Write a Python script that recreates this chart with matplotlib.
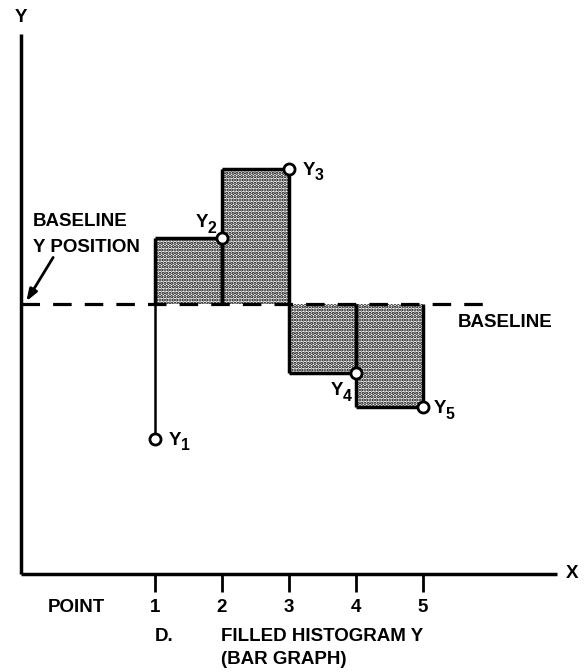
import matplotlib.pyplot as plt

plt.rcParams['font.family'] = ['Liberation Sans', 'DejaVu Sans']
plt.rcParams['font.weight'] = 'bold'
plt.rcParams['hatch.linewidth'] = 1.6

# data points of the histogram
points = [1, 2, 3, 4, 5]
y_vals = [-2.0, 0.98, 2.0, -1.02, -1.53]
point_labels = ['1', '2', '3', '4', '5']
y_subs = ['1', '2', '3', '4', '5']
baseline = 0.0

# offset (points) of the left edge of each "Y" name from its point
name_offsets = [(10, -1), (-19, 11), (10, -1), (-18, -13), (8, -1)]

x_scale, y_scale = 67.0, 67.5  # pixels per unit
x0 = 1 - 155 / x_scale
ytop = 304 / y_scale

fig = plt.figure(figsize=(5.85, 6.72), dpi=100)
ax = fig.add_axes([0, 0, 1, 1])
ax.set_xlim(x0, x0 + 585 / x_scale)
ax.set_ylim(ytop - 672 / y_scale, ytop)
ax.axis('off')

lw = 2.5
fs = 13.5

# axes
ax.plot([-1, -1], [-4, 4], color='black', lw=lw, solid_capstyle='butt')
ax.plot([-1, 7.0], [-4, -4], color='black', lw=lw, solid_capstyle='butt')
ax.text(-1.0, 4.25, 'Y', ha='center', va='center', fontsize=fs)
ax.text(7.22, -4.0, 'X', ha='center', va='center', fontsize=fs)

# ticks and labels along x
ax.vlines(points, -4, -4.27, color='black', lw=2)
for p, lab in zip(points, point_labels):
    ax.text(p, -4.5, lab, ha='center', va='center', fontsize=fs)
ax.text(-0.18, -4.5, 'POINT', ha='center', va='center', fontsize=fs)
ax.text(1.0, -4.93, 'D.', ha='left', va='center', fontsize=fs)
ax.text(1.98, -4.93, 'FILLED HISTOGRAM Y', ha='left', va='center', fontsize=fs)
ax.text(1.98, -5.27, '(BAR GRAPH)', ha='left', va='center', fontsize=fs)

# filled bars: bar between point i and i+1 takes the value of point i+1
ax.bar(points[:-1], y_vals[1:], width=1, bottom=baseline, align='edge',
       color='white', edgecolor='black', lw=0, hatch='.....', zorder=2)

# bar outlines
for i in range(len(points) - 1):
    left, right, h = points[i], points[i + 1], y_vals[i + 1]
    ax.hlines(h, left, right, color='black', lw=lw, zorder=3)
    ax.vlines([left, right], baseline, h, color='black', lw=lw, zorder=3)
ax.vlines(points[0], y_vals[0], baseline, color='black', lw=1.8, zorder=3)

# baseline
ax.plot([-1, 6.0], [baseline, baseline], color='black', lw=2.3,
        linestyle=(0, (5.8, 4.1)), dash_capstyle='butt', zorder=4)
ax.text(5.52, -0.28, 'BASELINE', ha='left', va='center', fontsize=fs)
ax.text(-0.82, 1.215, 'BASELINE', ha='left', va='center', fontsize=fs)
ax.text(-0.82, 0.844, 'Y POSITION', ha='left', va='center', fontsize=fs)
ax.annotate('', xy=(-0.92, 0.04), xytext=(-0.52, 0.69),
            arrowprops=dict(arrowstyle='-|>,head_length=0.7,head_width=0.25',
                            lw=2, color='black', shrinkA=0, shrinkB=0))

# data points and their names
ax.plot(points, y_vals, 'o', ms=8, mfc='white', mec='black', mew=2, zorder=5)
for p, v, sub, (dx, dy) in zip(points, y_vals, y_subs, name_offsets):
    ax.annotate('Y', (p, v), xytext=(dx, dy), textcoords='offset points',
                ha='left', va='center', fontsize=fs)
    ax.annotate(sub, (p, v), xytext=(dx + 8.5, dy - 4), textcoords='offset points',
                ha='left', va='center', fontsize=fs * 0.85)

fig.savefig('out.png', dpi=100)
